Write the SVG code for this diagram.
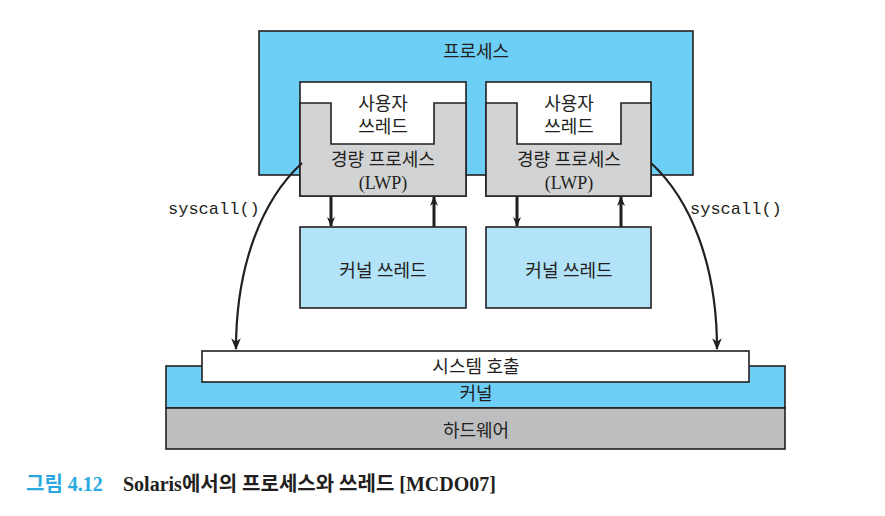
<svg xmlns="http://www.w3.org/2000/svg" width="885" height="516" viewBox="0 0 885 516">
<defs>
<style>
.box{stroke:#231f20;stroke-width:1.6}
.t{font-family:"Liberation Serif","Noto Sans CJK KR",serif;font-size:18px;fill:#231f20;text-anchor:middle}
.mono{font-family:"Liberation Mono",monospace;font-size:17px;fill:#231f20}
.conn{fill:none;stroke:#231f20;stroke-width:2.2}
.thick{fill:none;stroke:#231f20;stroke-width:3}
.cap{font-family:"Liberation Serif","Noto Sans CJK KR",serif;font-size:20px;font-weight:bold}
</style>
<marker id="ah" viewBox="0 0 10 10" refX="9" refY="5" markerWidth="10" markerHeight="10" markerUnits="userSpaceOnUse" orient="auto">
<path d="M0,1 L10,5 L0,9 L3,5 Z" fill="#231f20"/>
</marker>
<marker id="ah2" viewBox="0 0 10 10" refX="9" refY="5" markerWidth="12" markerHeight="12" markerUnits="userSpaceOnUse" orient="auto">
<path d="M0,1 L10,5 L0,9 L3,5 Z" fill="#231f20"/>
</marker>
</defs>
<rect width="885" height="516" fill="#ffffff"/>

<g id="process">
<rect class="box" x="259" y="31" width="434" height="144" fill="#6dcff6"/>
<text class="t" x="476" y="58">프로세스</text>
</g>

<g id="lwp1">
<rect class="box" x="300" y="82" width="166" height="114" fill="#ffffff"/>
<path class="box" d="M300,103 H331 V144 H434 V103 H466 V196 H300 Z" fill="#d1d3d4"/>
<text class="t" x="383" y="110">사용자</text>
<text class="t" x="383" y="133">쓰레드</text>
<text class="t" x="383" y="166">경량 프로세스</text>
<text class="t" x="383" y="189">(LWP)</text>
</g>

<g id="lwp2">
<rect class="box" x="486" y="82" width="165" height="114" fill="#ffffff"/>
<path class="box" d="M486,103 H517 V144 H621 V103 H651 V196 H486 Z" fill="#d1d3d4"/>
<text class="t" x="569" y="110">사용자</text>
<text class="t" x="569" y="133">쓰레드</text>
<text class="t" x="569" y="166">경량 프로세스</text>
<text class="t" x="569" y="189">(LWP)</text>
</g>

<g id="kthread1">
<rect class="box" x="300" y="227" width="166" height="81" fill="#b2e3f9"/>
<text class="t" x="383" y="277">커널 쓰레드</text>
</g>

<g id="kthread2">
<rect class="box" x="486" y="227" width="165" height="81" fill="#b2e3f9"/>
<text class="t" x="569" y="277">커널 쓰레드</text>
</g>

<g id="kernel">
<rect class="box" x="166" y="366" width="619" height="42" fill="#6dcff6"/>
<text class="t" x="476" y="400">커널</text>
</g>

<g id="hardware">
<rect class="box" x="166" y="408" width="619" height="41" fill="#bcbec0"/>
<text class="t" x="476" y="437">하드웨어</text>
</g>

<g id="syscallbox">
<rect class="box" x="202" y="351" width="547" height="31" fill="#ffffff"/>
<text class="t" x="476" y="373">시스템 호출</text>
</g>

<g id="connectors">
<line class="thick" x1="331" y1="196" x2="331" y2="226" marker-end="url(#ah)"/>
<line class="thick" x1="434" y1="227" x2="434" y2="197" marker-end="url(#ah)"/>
<line class="thick" x1="517" y1="196" x2="517" y2="226" marker-end="url(#ah)"/>
<line class="thick" x1="621" y1="227" x2="621" y2="197" marker-end="url(#ah)"/>
<path class="conn" d="M302,163 C262,200 236,265 236,349" marker-end="url(#ah2)"/>
<path class="conn" d="M651,163 C691,200 717,265 717,349" marker-end="url(#ah2)"/>
<text class="mono" x="168" y="214">syscall()</text>
<text class="mono" x="690" y="214">syscall()</text>
</g>

<g id="caption">
<text class="cap" x="26" y="491" fill="#29a9e0">그림 4.12</text>
<text class="cap" x="123" y="491" fill="#231f20">Solaris에서의 프로세스와 쓰레드 [MCDO07]</text>
</g>
</svg>
